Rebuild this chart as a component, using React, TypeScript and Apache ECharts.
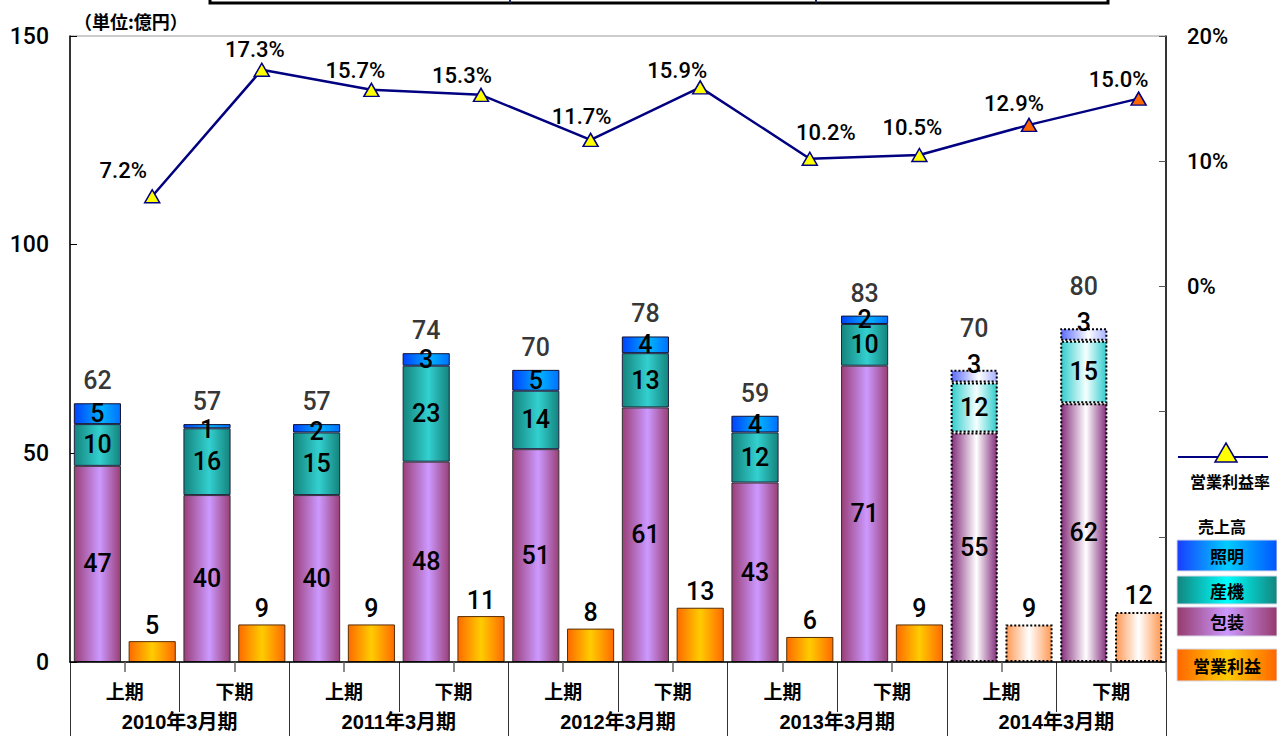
import React, { useEffect, useRef } from "react";
import * as echarts from "echarts";

// ---------- data ----------
const YEARS = ["2010年3月期", "2011年3月期", "2012年3月期", "2013年3月期", "2014年3月期"];
const HALVES = ["上期", "下期", "上期", "下期", "上期", "下期", "上期", "下期", "上期", "下期"];
const PACKAGING = [47, 40, 40, 48, 51, 61, 43, 71, 55, 62]; // 包装
const INDUSTRIAL = [10, 16, 15, 23, 14, 13, 12, 10, 12, 15]; // 産機
const LIGHTING = [5, 1, 2, 3, 5, 4, 4, 2, 3, 3]; // 照明
const PROFIT = [5, 9, 9, 11, 8, 13, 6, 9, 9, 12]; // 営業利益
const MARGIN = [7.2, 17.3, 15.7, 15.3, 11.7, 15.9, 10.2, 10.5, 12.9, 15.0]; // 営業利益率 (%)
const FORECAST = [false, false, false, false, false, false, false, false, true, true];
const LEFT_AXIS = { min: 0, max: 150, interval: 50 };
const RIGHT_AXIS = { min: -30, max: 20, interval: 10 };

// label nudges (layout only)
const LINE_LABEL_OFFSETS: [number, number][] = [
  [-29, -8], [-7, -2], [-16, -1], [-19, -1], [-9, -5],
  [-23, 1], [16, -8], [-7, -9], [-15, -3], [-20, -1],
];
const LIGHT_LABEL_DY = [0, 3, 3, 0, 0, 0, 0, 0, -12, -12];

const TOTALS = PACKAGING.map((v, i) => v + INDUSTRIAL[i] + LIGHTING[i]);

// two slots per period: sales stack, then operating profit
const SLOTS: string[] = [];
HALVES.forEach((h, i) => {
  const y = YEARS[Math.floor(i / 2)];
  SLOTS.push(`${y}${h}-売上`, `${y}${h}-利益`);
});

function slotData(vals: number[], slot: 0 | 1, mapItem: (v: number, i: number) => any) {
  const out: any[] = [];
  vals.forEach((v, i) => {
    const item = mapItem(v, i);
    if (slot === 0) out.push(item, "-");
    else out.push("-", item);
  });
  return out;
}

const grad = (stops: [number, string][]) =>
  new echarts.graphic.LinearGradient(
    0,
    0,
    1,
    0,
    stops.map(([offset, color]) => ({ offset, color }))
  );

const NUM_FONT = 'Roboto, "Liberation Sans", Arial, sans-serif';
const JP_FONT = '"Noto Sans CJK JP", sans-serif';
const MIX_FONT = '"Liberation Sans", "Noto Sans CJK JP", sans-serif';
const NUM_WEIGHT = 500;

const COL_PACK = () => grad([[0, "#9a3f78"], [0.55, "#cc99ff"], [1, "#9a3f78"]]);
const COL_IND = () => grad([[0, "#14847d"], [0.55, "#33d0d0"], [1, "#14847d"]]);
const COL_LIGHT = () => grad([[0, "#0044ff"], [0.6, "#00b0ff"], [1, "#0070ff"]]);
const COL_PROFIT = () => grad([[0, "#ff6a00"], [0.5, "#ffcc00"], [1, "#ff6a00"]]);

const FC_PACK = () => grad([[0, "#86307e"], [0.55, "#ffffff"], [1, "#86307e"]]);
const FC_IND = () => grad([[0, "#33cccc"], [0.55, "#f4ffff"], [1, "#33cccc"]]);
const FC_LIGHT = () => grad([[0, "#5a6cff"], [0.6, "#ffffff"], [1, "#a8b2ff"]]);
const FC_PROFIT = () => grad([[0, "#ff9955"], [0.5, "#ffffff"], [1, "#ff9955"]]);

const fcStyle = (color: any) => ({
  color,
  borderColor: "#000",
  borderWidth: 2,
  borderType: "dotted",
});

export default function App() {
  const ref = useRef<HTMLDivElement>(null);

  useEffect(() => {
    if (!ref.current) return;
    const chart = echarts.init(ref.current, undefined, { renderer: "svg" });

    const barLabel = {
      show: true,
      position: "inside",
      color: "#000",
      fontSize: 25,
      lineHeight: 20,
      fontWeight: NUM_WEIGHT,
      fontFamily: NUM_FONT,
    };

    const option: any = {
      animation: false,
      backgroundColor: "#fff",
      grid: {
        left: 70,
        right: 111,
        top: 36,
        bottom: 74,
        show: true,
        borderColor: "#999",
        borderWidth: 1,
        backgroundColor: "transparent",
      },
      xAxis: [
        {
          type: "category",
          data: SLOTS,
          boundaryGap: true,
          axisLine: { show: true, onZero: false, lineStyle: { color: "#000", width: 1.5 } },
          axisTick: {
            show: true,
            interval: (i: number) => i % 2 === 1,
            length: 10,
            lineStyle: { color: "#666", width: 1.5 },
          },
          axisLabel: { show: false },
          splitLine: { show: false },
          z: 5,
        },
        {
          type: "category",
          data: HALVES,
          position: "bottom",
          boundaryGap: true,
          axisLine: { show: false, onZero: false },
          axisTick: {
            show: true,
            interval: (i: number) => i % 2 === 1,
            length: 50,
            lineStyle: { color: "#333", width: 1 },
          },
          axisLabel: {
            show: true,
            interval: 0,
            margin: 19,
            color: "#000",
            fontSize: 19,
            fontWeight: "bold",
            fontFamily: JP_FONT,
          },
          splitLine: { show: false },
        },
        {
          type: "category",
          data: YEARS,
          position: "bottom",
          boundaryGap: true,
          axisLine: { show: false, onZero: false },
          axisTick: {
            show: true,
            interval: 0,
            length: 80,
            lineStyle: { color: "#333", width: 1 },
          },
          axisLabel: {
            show: true,
            interval: 0,
            margin: 50,
            color: "#000",
            fontSize: 20,
            fontWeight: "bold",
            fontFamily: MIX_FONT,
          },
          splitLine: { show: false },
        },
      ],
      yAxis: [
        {
          type: "value",
          min: LEFT_AXIS.min,
          max: LEFT_AXIS.max,
          interval: LEFT_AXIS.interval,
          axisLine: { show: true, lineStyle: { color: "#000", width: 1.5 } },
          axisTick: { show: true, inside: true, length: 7, lineStyle: { color: "#000" } },
          axisLabel: {
            color: "#000",
            fontSize: 23,
            margin: 21,
            fontWeight: NUM_WEIGHT,
            fontFamily: NUM_FONT,
          },
          splitLine: { show: false },
        },
        {
          type: "value",
          position: "right",
          min: RIGHT_AXIS.min,
          max: RIGHT_AXIS.max,
          interval: RIGHT_AXIS.interval,
          axisLine: { show: true, lineStyle: { color: "#000", width: 1.5 } },
          axisTick: { show: true, inside: true, length: 7, lineStyle: { color: "#555" } },
          axisLabel: {
            color: "#000",
            fontSize: 22,
            margin: 21,
            fontWeight: NUM_WEIGHT,
            fontFamily: NUM_FONT,
            formatter: (v: number) => (v >= 0 ? `${v}%` : ""),
          },
          splitLine: { show: false },
        },
      ],
      series: [
        {
          name: "包装",
          type: "bar",
          stack: "sales",
          barWidth: "86%",
          barGap: "-100%",
          itemStyle: { color: COL_PACK(), borderColor: "#333", borderWidth: 1 },
          label: barLabel,
          data: slotData(PACKAGING, 0, (v, i) =>
            FORECAST[i] ? { value: v, itemStyle: fcStyle(FC_PACK()) } : v
          ),
        },
        {
          name: "産機",
          type: "bar",
          stack: "sales",
          barWidth: "86%",
          barGap: "-100%",
          itemStyle: { color: COL_IND(), borderColor: "#224", borderWidth: 1 },
          label: barLabel,
          data: slotData(INDUSTRIAL, 0, (v, i) =>
            FORECAST[i] ? { value: v, itemStyle: fcStyle(FC_IND()) } : v
          ),
        },
        {
          name: "照明",
          type: "bar",
          stack: "sales",
          barWidth: "86%",
          barGap: "-100%",
          itemStyle: { color: COL_LIGHT(), borderColor: "#113", borderWidth: 1 },
          label: barLabel,
          data: slotData(LIGHTING, 0, (v, i) => ({
            value: v,
            itemStyle: FORECAST[i] ? fcStyle(FC_LIGHT()) : undefined,
            label: { offset: [0, LIGHT_LABEL_DY[i]] },
          })),
        },
        {
          name: "営業利益",
          type: "bar",
          stack: "profit",
          barWidth: "86%",
          barGap: "-100%",
          itemStyle: { color: COL_PROFIT(), borderColor: "#5a2e00", borderWidth: 1 },
          label: { ...barLabel, position: "top", distance: 6 },
          data: slotData(PROFIT, 1, (v, i) =>
            FORECAST[i] ? { value: v, itemStyle: fcStyle(FC_PROFIT()) } : v
          ),
        },
        {
          name: "売上高合計",
          type: "scatter",
          symbolSize: 1,
          silent: true,
          itemStyle: { color: "rgba(0,0,0,0)" },
          label: {
            show: true,
            position: "top",
            distance: 12,
            color: "#000",
            fontSize: 25,
            lineHeight: 20,
            fontWeight: NUM_WEIGHT,
            fontFamily: NUM_FONT,
            formatter: (p: any) => String(TOTALS[Math.floor(p.dataIndex / 2)]),
          },
          data: slotData(TOTALS, 0, (v, i) =>
            FORECAST[i] ? { value: v, label: { offset: [0, -19] } } : v
          ),
          z: 6,
        },
        {
          name: "営業利益率",
          type: "line",
          yAxisIndex: 1,
          connectNulls: true,
          lineStyle: { color: "#000080", width: 2.5 },
          symbol: "triangle",
          symbolSize: [15, 13],
          itemStyle: { color: "#ffff00", borderColor: "#000080", borderWidth: 1.5 },
          label: {
            show: true,
            position: "top",
            distance: 0,
            color: "#000",
            fontSize: 22,
            fontWeight: NUM_WEIGHT,
            fontFamily: NUM_FONT,
            formatter: (p: any) => `${Number(p.value).toFixed(1)}%`,
          },
          data: slotData(MARGIN, 1, (v, i) => ({
            value: v,
            itemStyle: FORECAST[i]
              ? { color: "#ff6600", borderColor: "#000080", borderWidth: 1.5 }
              : undefined,
            label: { offset: LINE_LABEL_OFFSETS[i] },
          })),
          z: 8,
        },
      ],
      graphic: [
        // cut-off title box at the top
        {
          type: "rect",
          shape: { x: 210, y: -12, width: 898, height: 15 },
          style: { fill: "#fff", stroke: "#000", lineWidth: 3 },
        },
        {
          type: "line",
          shape: { x1: 510, y1: 0, x2: 510, y2: 3 },
          style: { stroke: "#1a2a5a", lineWidth: 2 },
        },
        {
          type: "line",
          shape: { x1: 816, y1: 0, x2: 816, y2: 3 },
          style: { stroke: "#1a2a5a", lineWidth: 2 },
        },
        {
          type: "text",
          style: {
            text: "（単位:億円）",
            x: 74,
            y: 21,
            textVerticalAlign: "middle",
            font: `bold 18px ${JP_FONT}`,
            fill: "#000",
          },
        },
        // legend: line
        {
          type: "line",
          shape: { x1: 1178, y1: 457, x2: 1268, y2: 457 },
          style: { stroke: "#000080", lineWidth: 2 },
        },
        {
          type: "polygon",
          shape: { points: [[1215, 462], [1237, 462], [1226, 443]] },
          style: { fill: "#ffff00", stroke: "#000080", lineWidth: 1.5 },
        },
        {
          type: "text",
          style: {
            text: "営業利益率",
            x: 1230,
            y: 481,
            textAlign: "center",
            textVerticalAlign: "middle",
            font: `bold 16px ${JP_FONT}`,
            fill: "#000",
          },
        },
        {
          type: "text",
          style: {
            text: "売上高",
            x: 1222,
            y: 526,
            textAlign: "center",
            textVerticalAlign: "middle",
            font: `bold 16px ${JP_FONT}`,
            fill: "#000",
          },
        },
        ...[
          { t: "照明", y: 540, h: 31, c: grad([[0, "#1a3cff"], [0.5, "#00ccff"], [1, "#0055ff"]]) },
          { t: "産機", y: 576, h: 28, c: grad([[0, "#12857e"], [0.5, "#00ffff"], [1, "#12857e"]]) },
          { t: "包装", y: 607, h: 29, c: grad([[0, "#963a6c"], [0.5, "#cc99ff"], [1, "#963a6c"]]) },
          { t: "営業利益", y: 649, h: 32, c: grad([[0, "#ff6600"], [0.5, "#ffcc00"], [1, "#ff6600"]]) },
        ].flatMap((b) => [
          {
            type: "rect",
            shape: { x: 1177, y: b.y, width: 100, height: b.h },
            style: { fill: b.c, stroke: "#d8d8e8", lineWidth: 1 },
          },
          {
            type: "text",
            style: {
              text: b.t,
              x: 1227,
              y: b.y + b.h / 2,
              textAlign: "center",
              textVerticalAlign: "middle",
              font: `bold 17px ${JP_FONT}`,
              fill: "#000",
            },
          },
        ]),
      ],
    };

    chart.setOption(option);
    return () => chart.dispose();
  }, []);

  return (
    <div
      ref={ref}
      style={{ position: "fixed", left: 0, top: 0, width: 1277, height: 736, background: "#fff" }}
    />
  );
}
